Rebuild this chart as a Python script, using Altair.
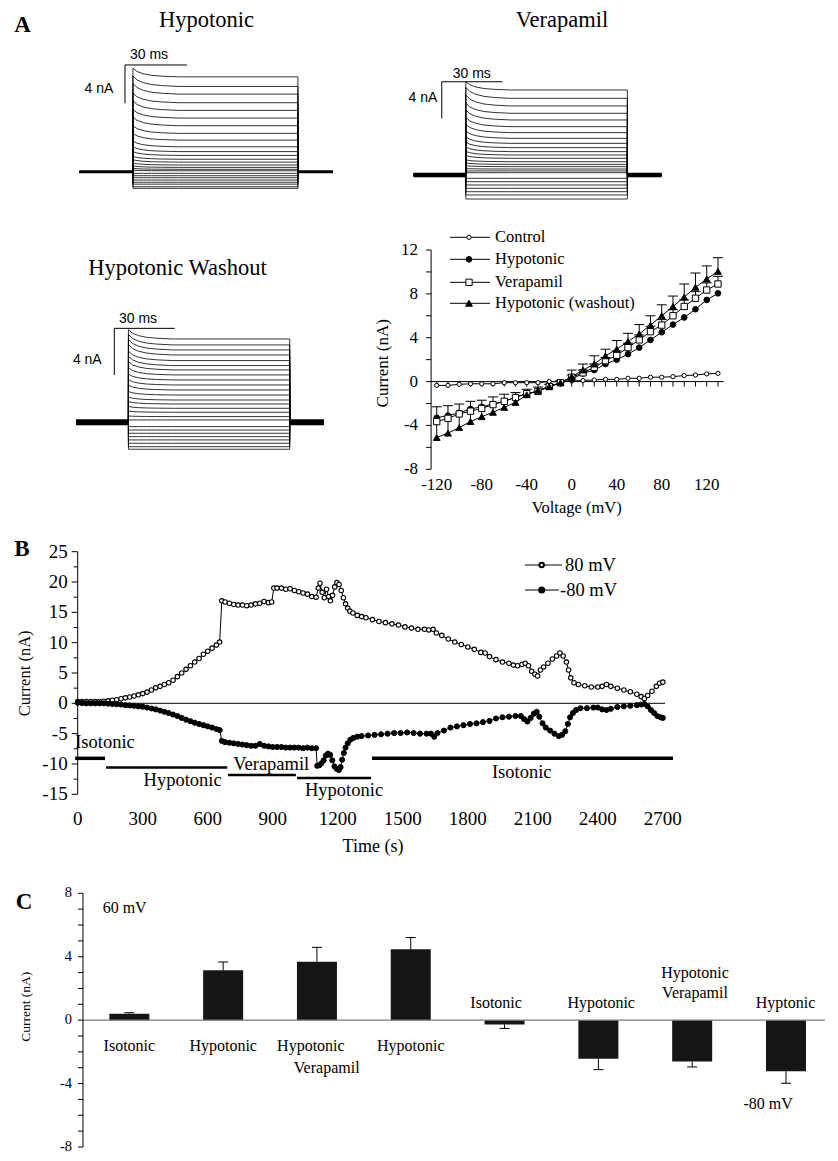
import altair as alt
import pandas as pd

W, H = 822, 1145
SERIF = "Liberation Serif"
SANS = "Liberation Sans"
K = "#000000"

# ---------------- Panel A: current traces (nA), +130 mV (top) ... -120 mV (bottom) ----------------
hyp_steady = [9.9, 8.9, 8.1, 7.2, 6.4, 5.6, 4.8, 4.0, 3.3, 2.6, 2.1, 1.7, 1.3, 1.0, 0.7, 0.45, 0.25, 0.1,
              -0.17, -0.42, -0.63, -0.87, -1.1, -1.3, -1.57, -1.74]
hyp_transient = [0.9, 1.1, 1.1, 1.0, 1.0, 0.9, 0.9, 0.8, 0.7, 0.6, 0.5, 0.4, 0.3, 0.25, 0.2, 0.15, 0.1, 0.05,
                 0, 0, 0, 0, 0, 0, 0, 0]
ver_steady = [9.27, 8.36, 7.53, 6.73, 6.0, 5.27, 4.62, 4.0, 3.45, 2.98, 2.55, 2.18, 1.82, 1.45, 1.16, 0.91, 0.65,
              0.44, 0.25, -0.36, -0.73, -1.09, -1.45, -1.82, -2.18, -2.62]
ver_transient = [0.9, 1.2, 1.2, 1.1, 1.1, 1.0, 0.9, 0.8, 0.7, 0.6, 0.5, 0.4, 0.3, 0.2, 0.15, 0.1, 0.05,
                 0, 0, 0, 0, 0, 0, 0, 0, 0]
wash_steady = [7.14, 6.63, 6.2, 5.77, 5.29, 4.86, 4.49, 4.06, 3.63, 3.2, 2.77, 2.34, 1.91, 1.57, 1.2, 0.86, 0.49,
               0.2, -0.37, -0.66, -0.94, -1.23, -1.51, -1.8, -2.09, -2.31]
wash_transient = [0.8, 0.9, 0.9, 0.9, 0.8, 0.8, 0.7, 0.6, 0.5, 0.45, 0.4, 0.3, 0.25, 0.2, 0.15, 0.1, 0.05,
                  0, 0, 0, 0, 0, 0, 0, 0, 0]
trace_time = [-26, 0, 0, 2, 5, 9, 14, 22, 80, 80, 97]          # ms
trace_decay = [None, None, 1.0, 0.62, 0.36, 0.18, 0.08, 0.0, 0.0, None, None]

# ---------------- Panel A: I-V relation ----------------
iv_voltage = list(range(-120, 131, 10))
iv_control = [-0.35, -0.35, -0.25, -0.2, -0.2, -0.2, -0.1, -0.1, -0.1, -0.1, 0.0, 0.0, 0.05, 0.1, 0.15, 0.2,
              0.2, 0.3, 0.3, 0.4, 0.4, 0.45, 0.55, 0.6, 0.7, 0.75]
iv_hypotonic = [-3.3, -3.1, -2.85, -2.5, -2.3, -2.05, -1.8, -1.4, -1.1, -0.9, -0.45, -0.15, 0.2, 0.75, 1.05,
                1.6, 2.0, 2.5, 3.1, 3.8, 4.5, 5.2, 5.85, 6.6, 7.45, 8.05]
iv_verapamil = [-3.65, -3.35, -2.95, -2.7, -2.45, -2.1, -1.8, -1.45, -1.1, -0.9, -0.45, -0.1, 0.4, 0.8, 1.3,
                1.9, 2.4, 3.1, 3.8, 4.55, 5.15, 6.0, 6.85, 7.6, 8.35, 8.9]
iv_washout = [-5.1, -4.7, -4.2, -3.65, -3.2, -2.8, -2.35, -1.9, -1.2, -0.8, -0.45, -0.1, 0.45, 1.05, 1.6,
              2.35, 2.95, 3.65, 4.35, 5.15, 6.0, 6.85, 7.7, 8.6, 9.35, 10.05]
iv_verapamil_err = [0, 0, 0, 0, 0, 0, 0, 0, 0, 0, 0, 0, 0.2, 0.25, 0.3, 0.3, 0.4, 0.4, 0.45, 0.5, 0.5, 0.55,
                    0.6, 0.6, 0.65, 0.7]
iv_washout_err = [2.8, 2.5, 2.15, 1.85, 1.5, 1.4, 1.2, 0.9, 0.5, 0.3, 0.2, 0.2, 0.6, 0.55, 0.75, 0.6, 0.8,
                  0.75, 0.85, 0.85, 1.0, 0.95, 1.2, 1.3, 1.2, 1.25]
iv_xticks = list(range(-120, 131, 10))
iv_xlabels = [-120, -80, -40, 0, 40, 80, 120]
iv_yticks = list(range(-8, 13, 2))
iv_ylabels = [-8, -4, 0, 4, 8, 12]

# ---------------- Panel B: time course ----------------
b_time_pos = [0, 20, 40, 60, 80, 100, 120, 140, 160, 180, 200, 220, 240, 260, 280, 300, 320, 340, 360, 380,
              400, 420, 440, 460, 480, 500, 520, 540, 560, 580, 600, 620, 640, 655, 665, 680, 700, 720, 740, 760,
              780, 800, 820, 840, 860, 880, 895, 905, 920, 940, 960, 980, 1000, 1020, 1040, 1060, 1080, 1100,
              1110, 1118, 1128, 1138, 1148, 1158, 1166, 1176, 1186, 1196, 1206, 1216, 1226, 1236, 1246, 1256,
              1270, 1290, 1310, 1330, 1360, 1390, 1420, 1450, 1480, 1510, 1540, 1570, 1600, 1620, 1640, 1655,
              1680, 1710, 1740, 1770, 1800, 1830, 1860, 1880, 1900, 1930, 1960, 1990, 2010, 2030, 2050, 2065,
              2080, 2095, 2110, 2122, 2135, 2150, 2170, 2190, 2210, 2225, 2240, 2255, 2265, 2275, 2290, 2310,
              2340, 2370, 2400, 2420, 2440, 2460, 2490, 2520, 2550, 2580, 2600, 2615, 2630, 2650, 2670, 2685,
              2700]
b_pos = [0.3, 0.3, 0.3, 0.3, 0.3, 0.3, 0.35, 0.4, 0.5, 0.6, 0.75, 0.9, 1.05, 1.2, 1.4, 1.6, 1.85, 2.2, 2.55,
         2.8, 3.1, 3.4, 3.8, 4.4, 5.0, 5.6, 6.2, 6.8, 7.4, 8.1, 8.6, 9.1, 9.6, 10.1, 16.9, 16.7, 16.5, 16.3,
         16.2, 16.2, 16.1, 16.2, 16.4, 16.5, 16.8, 16.6, 16.7, 19.0, 19.0, 19.0, 18.8, 18.9, 18.6, 18.4, 18.2,
         18.0, 17.6, 17.5, 19.0, 19.8, 18.3, 17.4, 18.8, 17.6, 16.9, 17.8, 19.2, 19.9, 19.6, 18.6, 17.4, 16.4,
         15.7, 15.2, 14.9, 14.5, 14.3, 14.1, 13.8, 13.5, 13.3, 13.1, 12.9, 12.6, 12.4, 12.2, 12.2, 12.1, 12.2,
         11.6, 11.2, 10.6, 10.1, 9.7, 9.3, 8.9, 8.4, 8.3, 7.7, 7.2, 6.8, 6.6, 6.3, 6.2, 6.4, 6.6, 6.2, 5.3,
         4.8, 4.5, 5.5, 6.0, 6.6, 7.3, 7.8, 8.3, 7.8, 6.8, 5.5, 4.2, 3.4, 3.1, 2.9, 2.7, 2.7, 2.8, 3.1, 2.8,
         2.5, 2.2, 1.9, 1.5, 1.1, 0.8, 1.3, 2.0, 2.8, 3.3, 3.5]
b_time_neg = [0, 20, 40, 60, 80, 100, 120, 140, 160, 180, 200, 220, 240, 260, 280, 300, 320, 340, 360, 380,
              400, 420, 440, 460, 480, 500, 520, 540, 560, 580, 600, 620, 640, 655, 665, 680, 700, 720, 740, 760,
              780, 800, 820, 840, 860, 880, 900, 920, 940, 960, 980, 1000, 1020, 1040, 1060, 1080, 1100, 1105,
              1115, 1125, 1135, 1145, 1155, 1165, 1175, 1185, 1195, 1205, 1213, 1220, 1228, 1236, 1246, 1258,
              1272, 1290, 1310, 1340, 1370, 1400, 1430, 1460, 1490, 1520, 1550, 1580, 1610, 1630, 1645, 1660,
              1690, 1720, 1750, 1780, 1810, 1840, 1870, 1900, 1930, 1960, 1990, 2020, 2045, 2060, 2075, 2090,
              2105, 2118, 2130, 2145, 2160, 2180, 2200, 2220, 2235, 2250, 2262, 2272, 2285, 2300, 2320, 2350,
              2380, 2400, 2420, 2440, 2460, 2490, 2520, 2550, 2580, 2600, 2615, 2630, 2645, 2660, 2675, 2690,
              2700]
b_neg = [0.1, 0.05, 0, 0, 0, 0, 0, -0.05, -0.1, -0.15, -0.2, -0.3, -0.35, -0.4, -0.5, -0.55, -0.7, -0.85,
         -1.0, -1.2, -1.4, -1.6, -1.85, -2.1, -2.4, -2.7, -2.95, -3.2, -3.4, -3.6, -3.8, -4.0, -4.25, -4.4,
         -6.2, -6.4, -6.5, -6.6, -6.7, -6.8, -6.9, -7.0, -7.0, -6.7, -7.0, -7.1, -7.2, -7.2, -7.2, -7.3, -7.3,
         -7.3, -7.3, -7.4, -7.3, -7.4, -7.4, -10.3, -10.2, -9.9, -9.4, -8.6, -8.3, -8.5, -9.4, -10.4, -10.8,
         -11.0, -10.5, -9.3, -8.2, -7.3, -6.6, -6.0, -5.7, -5.5, -5.4, -5.3, -5.2, -5.1, -5.0, -4.9, -4.9,
         -4.8, -4.9, -5.0, -5.0, -5.0, -5.5, -4.9, -4.5, -4.0, -3.8, -3.6, -3.4, -3.3, -3.1, -2.9, -2.5, -2.3,
         -2.2, -2.1, -2.1, -2.6, -3.0, -2.4, -1.7, -1.4, -2.2, -3.3, -4.0, -4.5, -5.0, -5.4, -5.2, -4.6, -3.4,
         -2.3, -1.6, -1.1, -0.8, -0.8, -0.7, -0.7, -1.0, -1.1, -0.9, -0.6, -0.5, -0.4, -0.3, -0.2, -0.1, -0.5,
         -1.1, -1.6, -2.1, -2.3, -2.4]
cond_label = ["Isotonic", "Hypotonic", "Verapamil", "Hypotonic", "Isotonic"]
cond_start = [-12, 131, 694, 1012, 1358]
cond_end = [126, 690, 1007, 1354, 2747]
cond_level = [-9.07, -10.6, -11.8, -12.3, -9.07]
cond_text_t = [126, 484, 893, 1229, 2049]
cond_text_v = [-6.33, -12.64, -10.0, -14.3, -11.27]
b_xlabels = list(range(0, 2701, 300))
b_ymajor = list(range(-15, 26, 5))
b_yminor = [-12.5, -7.5, -2.5, 2.5, 7.5, 12.5, 17.5, 22.5]

# ---------------- Panel C: bar summary ----------------
c_values = [0.41, 3.14, 3.69, 4.47, -0.27, -2.44, -2.61, -3.22]
c_errors = [0.06, 0.53, 0.90, 0.74, 0.25, 0.68, 0.34, 0.76]
c_label_text = ["Isotonic", "Hypotonic", "Hypotonic", "Verapamil", "Hypotonic", "Isotonic", "Hypotonic",
                "Hypotonic", "Verapamil", "Hyptonic", "60 mV", "-80 mV"]
c_label_pos = [0, 1, 1.935, 2.104, 3, 3.91, 5.03, 6.03, 6.03, 6.995, -0.05, 6.81]
c_label_level = [-1.62, -1.62, -1.62, -2.99, -1.62, 1.09, 1.09, 2.98, 1.74, 1.09, 7.1, -5.28]
c_yticks = list(range(-8, 9))
c_ylabels = [-8, -4, 0, 4, 8]


def sc(dom, rng):
    return alt.Scale(domain=dom, range=rng, nice=False, zero=False)


def txt(text, x, y, size, font=SERIF, align="center", weight="normal", angle=0):
    return alt.Chart(pd.DataFrame({"s": [text]})).mark_text(
        font=font, fontSize=size, align=align, baseline="middle", fontWeight=weight,
        angle=angle, color=K).encode(x=alt.value(x), y=alt.value(y), text="s:N")


def X(f, s):
    return alt.X(f, scale=s, axis=None)


def Y(f, s):
    return alt.Y(f, scale=s, axis=None)


# ---------- hand-built axes drawn through each panel's scales ----------
def left_axis(xs, ys, x_at, ydom, ticks, labels, size, label_dx, tick_len=5, color=K, minor=None,
              minor_len=4):
    layers = []
    dom = pd.DataFrame({"x": [x_at], "a": [ydom[0]], "b": [ydom[1]]})
    layers.append(alt.Chart(dom).mark_rule(color=color, strokeWidth=1).encode(
        x=X("x:Q", xs), y=Y("a:Q", ys), y2="b:Q"))
    tk = pd.DataFrame({"x": [x_at] * len(ticks), "v": ticks})
    layers.append(alt.Chart(tk).mark_rule(color=color, strokeWidth=1, x2Offset=-tick_len).encode(
        x=X("x:Q", xs), x2="x:Q", y=Y("v:Q", ys)))
    if minor:
        mk = pd.DataFrame({"x": [x_at] * len(minor), "v": minor})
        layers.append(alt.Chart(mk).mark_rule(color=color, strokeWidth=1, x2Offset=-minor_len).encode(
            x=X("x:Q", xs), x2="x:Q", y=Y("v:Q", ys)))
    lb = pd.DataFrame({"x": [x_at] * len(labels), "v": labels, "s": [str(v) for v in labels]})
    layers.append(alt.Chart(lb).mark_text(font=SERIF, fontSize=size, color=K, align="right",
                                          baseline="middle", dx=label_dx).encode(
        x=X("x:Q", xs), y=Y("v:Q", ys), text="s:N"))
    return layers


# ---------- trace panels ----------
def trace_panel(steady, transient, xr, ydom, yr, base_w, bar_t, bar_v):
    rows = []
    for i, (s, tr) in enumerate(zip(steady, transient)):
        for j, (t, d) in enumerate(zip(trace_time, trace_decay)):
            rows.append({"trace": i, "seq": j, "t": t, "i": 0.0 if d is None else s + tr * d})
    df = pd.DataFrame(rows)
    xs = sc([-26, 97], xr)
    ys = sc(ydom, yr)
    lines = alt.Chart(df).mark_line(color=K, strokeWidth=0.8).encode(
        x=X("t:Q", xs), y=Y("i:Q", ys), detail="trace:N", order="seq:Q")
    base = pd.DataFrame({"t0": [trace_time[0], trace_time[-2]], "t1": [trace_time[1], trace_time[-1]],
                         "i": [0.0, 0.0]})
    baseline = alt.Chart(base).mark_rule(color=K, strokeWidth=base_w).encode(
        x=X("t0:Q", xs), x2="t1:Q", y=Y("i:Q", ys))
    sb = pd.DataFrame({"t0": [bar_t, bar_t], "t1": [bar_t, bar_t + 30],
                       "i0": [bar_v, bar_v], "i1": [bar_v - 4, bar_v]})
    scalebar = alt.Chart(sb).mark_rule(color=K, strokeWidth=1).encode(
        x=X("t0:Q", xs), x2="t1:Q", y=Y("i0:Q", ys), y2="i1:Q")
    return alt.layer(lines, baseline, scalebar)


p_hyp = trace_panel(hyp_steady, hyp_transient, [71.3, 325.0], [-2, 12], [182.86, 48.74], 3, -3.85, 11.14)
p_ver = trace_panel(ver_steady, ver_transient, [405.3, 653.7], [-3, 12], [194.51, 56.96], 4.5, -11.9, 10.17)
p_wash = trace_panel(wash_steady, wash_transient, [68.0, 316.0], [-3, 10], [449.31, 297.6], 6, -7.0, 8.05)

# ---------- I-V panel ----------
IVX = [-125, 135]
IVY = [-8, 12]
iv_x = sc(IVX, [423.1, 715.6])
iv_y = sc(IVY, [461.3, 242.0])
series = [("Control", iv_control), ("Hypotonic", iv_hypotonic), ("Verapamil", iv_verapamil),
          ("Hypotonic (washout)", iv_washout)]
iv_df = pd.DataFrame([{"series": n, "v": v, "i": c} for n, vals in series for v, c in zip(iv_voltage, vals)])
err_rows = []
for vals, errs in [(iv_verapamil, iv_verapamil_err), (iv_washout, iv_washout_err)]:
    for v, c, e in zip(iv_voltage, vals, errs):
        if e > 0:
            err_rows.append({"v": v, "lo": c, "hi": c + e})
iv_err = pd.DataFrame(err_rows)

iv_axes = left_axis(iv_x, iv_y, IVX[0], IVY, iv_yticks, iv_ylabels, 17, -13)
zl = pd.DataFrame({"a": [IVX[0]], "b": [IVX[1]], "y": [0.0]})
iv_axes.append(alt.Chart(zl).mark_rule(color=K, strokeWidth=1).encode(
    x=X("a:Q", iv_x), x2="b:Q", y=Y("y:Q", iv_y)))
xt = pd.DataFrame({"v": iv_xticks, "y": [0.0] * len(iv_xticks)})
iv_axes.append(alt.Chart(xt).mark_rule(color=K, strokeWidth=1, y2Offset=5).encode(
    x=X("v:Q", iv_x), y=Y("y:Q", iv_y), y2="y:Q"))
xl = pd.DataFrame({"v": iv_xlabels, "y": [IVY[0]] * len(iv_xlabels), "s": [str(v) for v in iv_xlabels]})
iv_axes.append(alt.Chart(xl).mark_text(font=SERIF, fontSize=17, color=K, baseline="middle", dy=16).encode(
    x=X("v:Q", iv_x), y=Y("y:Q", iv_y), text="s:N"))

iv_lines = alt.Chart(iv_df).mark_line(color=K, strokeWidth=1).encode(
    x=X("v:Q", iv_x), y=Y("i:Q", iv_y), detail="series:N")
iv_eb = alt.Chart(iv_err).mark_rule(color=K, strokeWidth=1).encode(
    x=X("v:Q", iv_x), y=Y("lo:Q", iv_y), y2="hi:Q")
iv_cap = alt.Chart(iv_err).mark_rule(color=K, strokeWidth=1, xOffset=-5, x2Offset=5).encode(
    x=X("v:Q", iv_x), x2="v:Q", y=Y("hi:Q", iv_y))
marker_style = {
    "Control": dict(shape="circle", size=18, fill="white"),
    "Hypotonic": dict(shape="circle", size=32, fill=K),
    "Verapamil": dict(shape="square", size=40, fill="white"),
    "Hypotonic (washout)": dict(shape="triangle-up", size=46, fill=K),
}
iv_pts = []
for name, _ in series:
    st = marker_style[name]
    iv_pts.append(alt.Chart(iv_df[iv_df.series == name]).mark_point(
        shape=st["shape"], size=st["size"], fill=st["fill"], stroke=K, strokeWidth=1, opacity=1,
        fillOpacity=1).encode(x=X("v:Q", iv_x), y=Y("i:Q", iv_y)))
p_iv = alt.layer(*iv_axes, iv_lines, iv_eb, iv_cap, *iv_pts)

iv_legend = []
for (name, _), ly in zip(series, [229.3, 251.3, 274.3, 295.3]):
    st = marker_style[name]
    iv_legend.append(alt.Chart(pd.DataFrame({"s": [name]})).mark_rule(color=K, strokeWidth=1).encode(
        x=alt.value(442), x2=alt.value(482), y=alt.value(ly)))
    iv_legend.append(alt.Chart(pd.DataFrame({"s": [name]})).mark_point(
        shape=st["shape"], size=st["size"], fill=st["fill"], stroke=K, strokeWidth=1, opacity=1,
        fillOpacity=1).encode(x=alt.value(461), y=alt.value(ly)))
    iv_legend.append(txt(name, 487, ly, 16.5, align="left"))

# ---------- Panel B ----------
BX = [0, 2710]
BY = [-15, 25]
b_x = sc(BX, [69.7, 657.0])
b_y = sc(BY, [786.3, 543.7])
pos_df = pd.DataFrame({"t": b_time_pos, "i": b_pos})
neg_df = pd.DataFrame({"t": b_time_neg, "i": b_neg})
b_axes = left_axis(b_x, b_y, BX[0], BY, b_ymajor, b_ymajor, 19, -10, tick_len=6, minor=b_yminor,
                   minor_len=4)
bz = pd.DataFrame({"a": [BX[0]], "b": [BX[1]], "y": [0.0]})
b_axes.append(alt.Chart(bz).mark_rule(color=K, strokeWidth=1).encode(
    x=X("a:Q", b_x), x2="b:Q", y=Y("y:Q", b_y)))
bl = pd.DataFrame({"v": b_xlabels, "y": [BY[0]] * len(b_xlabels), "s": [str(v) for v in b_xlabels]})
b_axes.append(alt.Chart(bl).mark_text(font=SERIF, fontSize=19, color=K, baseline="middle", dy=25).encode(
    x=X("v:Q", b_x), y=Y("y:Q", b_y), text="s:N"))

b_pos_line = alt.Chart(pos_df).mark_line(color=K, strokeWidth=1).encode(x=X("t:Q", b_x), y=Y("i:Q", b_y))
b_neg_line = alt.Chart(neg_df).mark_line(color=K, strokeWidth=1).encode(x=X("t:Q", b_x), y=Y("i:Q", b_y))
b_pos_pts = alt.Chart(pos_df).mark_point(shape="circle", size=20, fill="white", stroke=K, strokeWidth=1.1,
                                         opacity=1, fillOpacity=1).encode(x=X("t:Q", b_x), y=Y("i:Q", b_y))
b_neg_pts = alt.Chart(neg_df).mark_point(shape="circle", size=26, fill=K, stroke=K, strokeWidth=1,
                                         opacity=1, fillOpacity=1).encode(x=X("t:Q", b_x), y=Y("i:Q", b_y))
cond_df = pd.DataFrame({"label": cond_label, "t0": cond_start, "t1": cond_end, "lvl": cond_level,
                        "tt": cond_text_t, "tv": cond_text_v})
b_cond_iso = alt.Chart(cond_df).transform_filter("datum.label == 'Isotonic'").mark_rule(
    color=K, strokeWidth=3.5).encode(x=X("t0:Q", b_x), x2="t1:Q", y=Y("lvl:Q", b_y))
b_cond_other = alt.Chart(cond_df).transform_filter("datum.label != 'Isotonic'").mark_rule(
    color=K, strokeWidth=2.5).encode(x=X("t0:Q", b_x), x2="t1:Q", y=Y("lvl:Q", b_y))
b_cond_txt = alt.Chart(cond_df).mark_text(font=SERIF, fontSize=18.5, color=K, baseline="middle").encode(
    x=X("tt:Q", b_x), y=Y("tv:Q", b_y), text="label:N")
p_b = alt.layer(*b_axes, b_pos_line, b_neg_line, b_pos_pts, b_neg_pts, b_cond_iso, b_cond_other, b_cond_txt)

b_legend = [
    alt.Chart(pd.DataFrame({"s": ["80 mV"]})).mark_rule(color=K, strokeWidth=1).encode(
        x=alt.value(517), x2=alt.value(554), y=alt.value(557)),
    alt.Chart(pd.DataFrame({"s": ["80 mV"]})).mark_point(shape="circle", size=20, fill="white", stroke=K,
                                                        opacity=1, fillOpacity=1).encode(
        x=alt.value(533.7), y=alt.value(557)),
    txt("80 mV", 557, 557, 18.5, align="left"),
    alt.Chart(pd.DataFrame({"s": ["-80 mV"]})).mark_rule(color=K, strokeWidth=1).encode(
        x=alt.value(517), x2=alt.value(551), y=alt.value(582)),
    alt.Chart(pd.DataFrame({"s": ["-80 mV"]})).mark_point(shape="circle", size=26, fill=K, stroke=K,
                                                         opacity=1, fillOpacity=1).encode(
        x=alt.value(533.7), y=alt.value(582)),
    txt("-80 mV", 552, 582, 18.5, align="left"),
]

# ---------- Panel C ----------
CX = [-0.494, 7.416]
CY = [-8, 8]
c_x = sc(CX, [70.0, 822.0])
c_y = sc(CY, [1139.0, 885.3])
c_df = pd.DataFrame({"idx": list(range(len(c_values))), "val": c_values, "err": c_errors})
c_df["base"] = 0.0
c_df["tip"] = [v + (e if v >= 0 else -e) for v, e in zip(c_values, c_errors)]
c_axes = left_axis(c_x, c_y, CX[0], CY, c_yticks, c_ylabels, 14.5, -11)
cz = pd.DataFrame({"a": [CX[0]], "b": [CX[1]], "y": [0.0]})
c_zero = alt.Chart(cz).mark_rule(color="#7a7a7a", strokeWidth=1.3).encode(
    x=X("a:Q", c_x), x2="b:Q", y=Y("y:Q", c_y))
c_bars = alt.Chart(c_df).mark_bar(size=40, color="#151515").encode(
    x=X("idx:Q", c_x), y=Y("val:Q", c_y), y2="base:Q")
c_eb = alt.Chart(c_df).mark_rule(color=K, strokeWidth=1).encode(
    x=X("idx:Q", c_x), y=Y("val:Q", c_y), y2="tip:Q")
c_cap = alt.Chart(c_df).mark_rule(color=K, strokeWidth=1, xOffset=-5, x2Offset=5).encode(
    x=X("idx:Q", c_x), x2="idx:Q", y=Y("tip:Q", c_y))
c_lab_df = pd.DataFrame({"text": c_label_text, "pos": c_label_pos, "lvl": c_label_level})
c_labels = alt.Chart(c_lab_df).mark_text(font=SERIF, fontSize=16, color=K, baseline="middle").encode(
    x=X("pos:Q", c_x), y=Y("lvl:Q", c_y), text="text:N")
p_c = alt.layer(c_bars, c_zero, *c_axes, c_eb, c_cap, c_labels)

# ---------- text annotations ----------
texts = [
    txt("A", 14.5, 17, 23, weight="bold"),
    txt("B", 14, 541, 23, weight="bold"),
    txt("C", 16, 894, 23, weight="bold"),
    txt("Hypotonic", 198.5, 12, 22.5),
    txt("Verapamil", 554, 12, 22.5),
    txt("Hypotonic Washout", 169.5, 259.5, 22.5),
    txt("30 ms", 122, 47, 14, font=SANS, align="left"),
    txt("4 nA", 105.3, 81, 14, font=SANS, align="right"),
    txt("30 ms", 444.7, 66, 14, font=SANS, align="left"),
    txt("4 nA", 429.3, 90, 14, font=SANS, align="right"),
    txt("30 ms", 111, 310.5, 14, font=SANS, align="left"),
    txt("4 nA", 93.7, 351.5, 14, font=SANS, align="right"),
    txt("Current (nA)", 375, 355.3, 17, angle=270),
    txt("Voltage (mV)", 568.7, 500.3, 16.5),
    txt("Current (nA)", 17, 665.3, 16.5, angle=270),
    txt("Time (s)", 365, 839.3, 18),
    txt("Current (nA)", 18, 998.7, 13.5, angle=270),
]

chart = alt.layer(p_hyp, p_ver, p_wash, p_iv, p_b, p_c, *iv_legend, *b_legend, *texts).resolve_scale(
    x="independent", y="independent").properties(
    width=W, height=H, padding=0, autosize=alt.AutoSizeParams(type="none"), background="white"
).configure_view(strokeOpacity=0)

chart.save("out.html", embed_options={"renderer": "svg", "actions": False})
